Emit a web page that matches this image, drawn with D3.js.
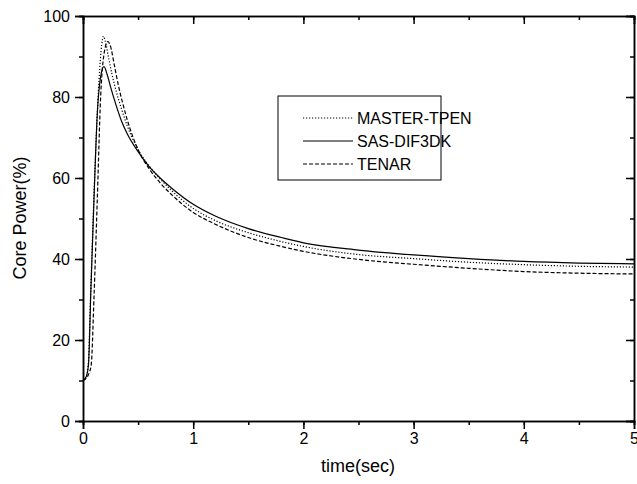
<!DOCTYPE html>
<html>
<head>
<meta charset="utf-8">
<script src="https://cdn.jsdelivr.net/npm/d3@7"></script>
<style>
  body { margin: 0; background: #fff; }
  svg { font-family: Arial, "Liberation Sans", sans-serif; }
</style>
</head>
<body>
<div id="container"></div>
<script>
// series (time in sec, core power in %)
const masterT = [0, 0.03, 0.05, 0.07, 0.1, 0.12, 0.145, 0.17, 0.185, 0.2, 0.23, 0.26, 0.3, 0.35, 0.4, 0.5, 0.6, 0.7, 0.8, 1.0, 1.2, 1.5, 1.8, 2.0, 2.5, 3.0, 3.5, 4.0, 4.5, 5.0];
const masterP = [10, 11, 15, 32, 56, 70, 84, 93, 95, 94, 90, 86, 81.5, 77, 73, 67, 63, 59.8, 57, 52.5, 49.5, 46.5, 44.3, 43.1, 41.1, 40.1, 39.2, 38.6, 38.2, 38.0];

const sasT = [0, 0.03, 0.05, 0.07, 0.1, 0.13, 0.16, 0.19, 0.22, 0.25, 0.3, 0.35, 0.4, 0.5, 0.6, 0.7, 0.8, 1.0, 1.2, 1.5, 1.8, 2.0, 2.5, 3.0, 3.5, 4.0, 4.5, 5.0];
const sasP = [10, 11, 14, 31, 55, 76, 85, 87.5, 85.5, 82.5, 78, 74, 71, 66.5, 62.8, 60, 57.6, 53.5, 50.6, 47.5, 45.3, 44.0, 42.2, 41.0, 40.1, 39.4, 39.0, 38.8];

const tenarT = [0, 0.03, 0.05, 0.075, 0.1, 0.13, 0.16, 0.19, 0.225, 0.25, 0.28, 0.32, 0.36, 0.4, 0.5, 0.6, 0.7, 0.8, 1.0, 1.2, 1.5, 1.8, 2.0, 2.5, 3.0, 3.5, 4.0, 4.5, 5.0];
const tenarP = [10, 10.5, 11.5, 14, 30.7, 55, 80, 90.5, 93.7, 92.5, 88.5, 83, 78.5, 74.5, 67, 62.3, 58.8, 56, 51.5, 48.6, 45.3, 43.1, 41.9, 39.9, 38.7, 37.7, 36.9, 36.5, 36.3];

const seriesNames = ['MASTER-TPEN', 'SAS-DIF3DK', 'TENAR'];
const xTicks = [0, 1, 2, 3, 4, 5];
const yTicks = [0, 20, 40, 60, 80, 100];

const width = 637, height = 484;
const margin = {left: 83, right: 3, top: 16, bottom: 63};

const svg = d3.select('#container')
  .append('svg')
  .attr('width', width)
  .attr('height', height);

const x = d3.scaleLinear().domain([0, 5]).range([margin.left, width - margin.right]);
const y = d3.scaleLinear().domain([0, 100]).range([height - margin.bottom, margin.top]);

const xMinor = d3.range(0, 5.01, 0.5);
const yMinor = d3.range(0, 100.1, 10);

function styleAxis(g) {
  g.select('.domain').attr('stroke', '#000').attr('stroke-width', 1.5);
  g.selectAll('.tick line').attr('stroke', '#000').attr('stroke-width', 1.5);
  g.selectAll('.tick text').attr('fill', '#000').style('font-size', '16px');
}

// minor ticks
svg.append('g').attr('transform', `translate(0,${y(0)})`)
  .call(d3.axisBottom(x).tickValues(xMinor).tickSize(4).tickFormat('')).call(styleAxis);
svg.append('g').attr('transform', `translate(0,${y(100)})`)
  .call(d3.axisTop(x).tickValues(xMinor).tickSize(-4).tickFormat('')).call(styleAxis);
svg.append('g').attr('transform', `translate(${x(0)},0)`)
  .call(d3.axisLeft(y).tickValues(yMinor).tickSize(4).tickFormat('')).call(styleAxis);
svg.append('g').attr('transform', `translate(${x(5)},0)`)
  .call(d3.axisRight(y).tickValues(yMinor).tickSize(-4).tickFormat('')).call(styleAxis);

// major ticks
svg.append('g').attr('transform', `translate(0,${y(0)})`)
  .call(d3.axisBottom(x).tickValues(xTicks).tickSize(8).tickPadding(4).tickFormat(d3.format('d'))).call(styleAxis);
svg.append('g').attr('transform', `translate(0,${y(100)})`)
  .call(d3.axisTop(x).tickValues(xTicks).tickSize(-8).tickFormat('')).call(styleAxis);
svg.append('g').attr('transform', `translate(${x(0)},0)`)
  .call(d3.axisLeft(y).tickValues(yTicks).tickSize(8).tickPadding(5).tickFormat(d3.format('d'))).call(styleAxis);
svg.append('g').attr('transform', `translate(${x(5)},0)`)
  .call(d3.axisRight(y).tickValues(yTicks).tickSize(-8).tickFormat('')).call(styleAxis);

// axis titles
svg.append('text')
  .attr('x', 358).attr('y', 472)
  .attr('text-anchor', 'middle')
  .style('font-size', '18px')
  .text('time(sec)');

svg.append('text')
  .attr('transform', 'translate(26,218) rotate(-90)')
  .attr('text-anchor', 'middle')
  .style('font-size', '18px')
  .text('Core Power(%)');

// curves
const line = d3.line()
  .x(d => x(d[0]))
  .y(d => y(d[1]))
  .curve(d3.curveMonotoneX);

const dashes = ['1.2,1.8', null, '4,2'];
const series = [
  d3.zip(masterT, masterP),
  d3.zip(sasT, sasP),
  d3.zip(tenarT, tenarP)
];

svg.selectAll('.curve')
  .data(series)
  .enter()
  .append('path')
  .attr('class', 'curve')
  .attr('fill', 'none')
  .attr('stroke', '#000')
  .attr('stroke-width', 1.2)
  .attr('stroke-dasharray', (d, i) => dashes[i])
  .attr('d', d => line(d));

// legend
const legend = svg.append('g');
legend.append('rect')
  .attr('x', 278).attr('y', 96)
  .attr('width', 163).attr('height', 84)
  .attr('fill', '#fff')
  .attr('stroke', '#000')
  .attr('stroke-width', 1);

seriesNames.forEach((name, i) => {
  const ly = 118 + i * 23;
  legend.append('line')
    .attr('x1', 303).attr('x2', 353)
    .attr('y1', ly).attr('y2', ly)
    .attr('stroke', '#000')
    .attr('stroke-width', 1.2)
    .attr('stroke-dasharray', dashes[i]);
  legend.append('text')
    .attr('x', 357).attr('y', ly + 6)
    .style('font-size', '16px')
    .text(name);
});
</script>
</body>
</html>
